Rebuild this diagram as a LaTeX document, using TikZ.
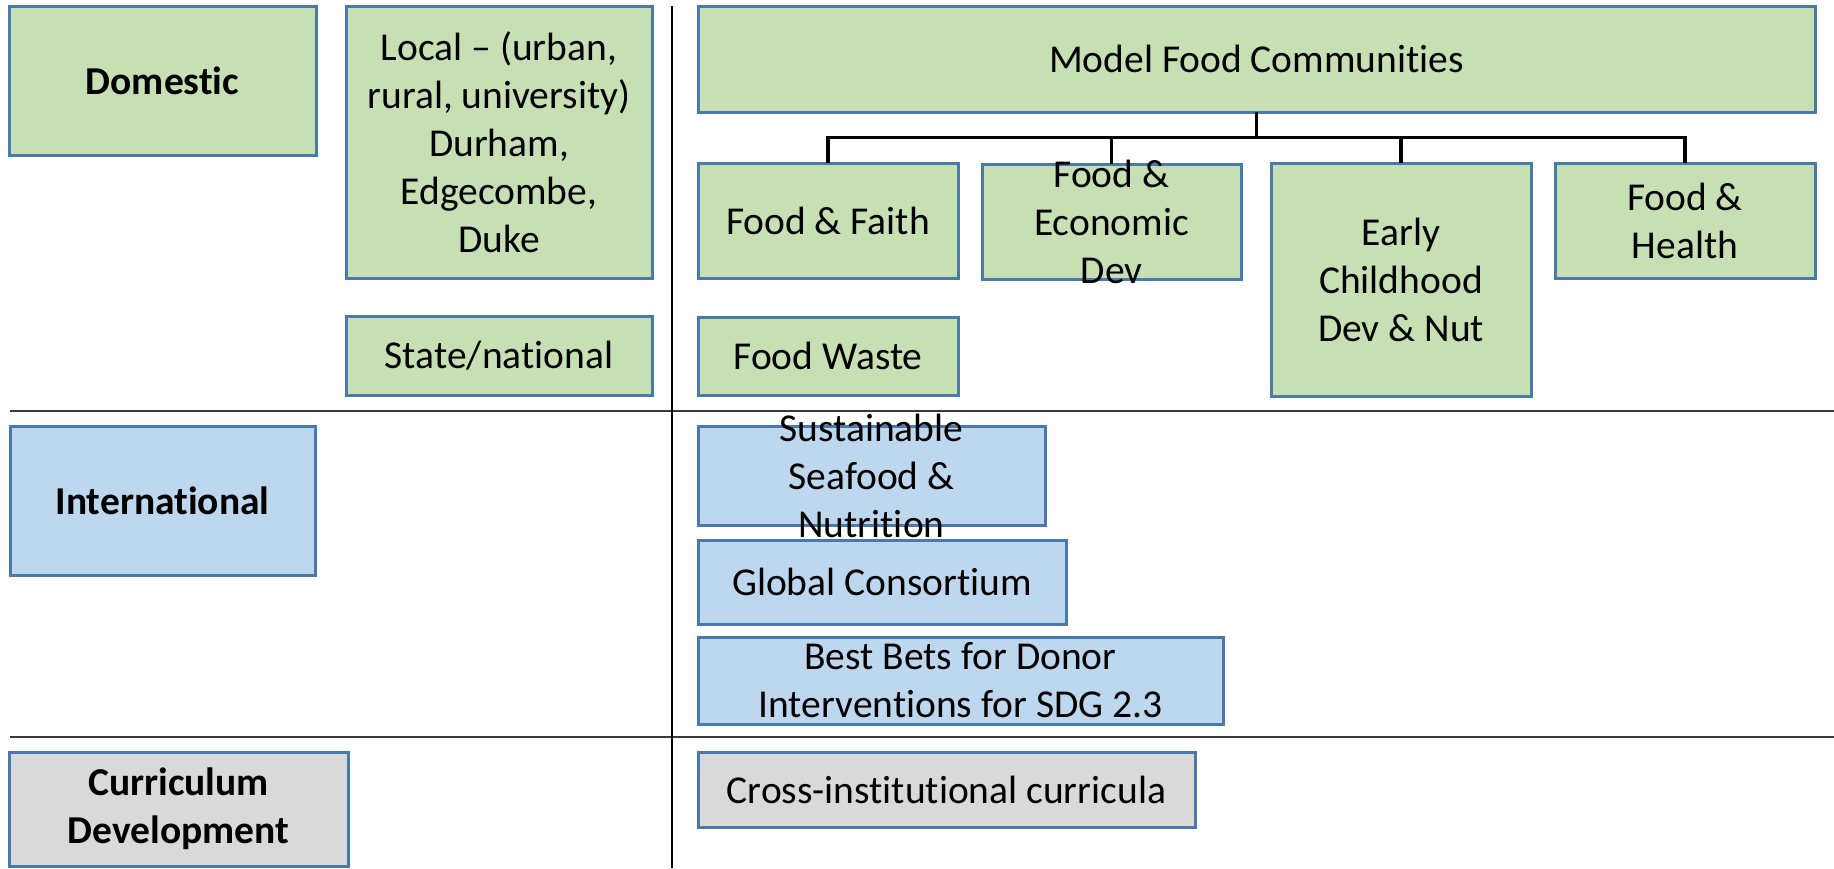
\documentclass[tikz,border=0pt]{standalone}
\usepackage{fontspec}
\setmainfont{Carlito}[Ligatures=CommonOff]
\definecolor{greenfill}{HTML}{C6E0B4}
\definecolor{bluefill}{HTML}{BDD7EE}
\definecolor{grayfill}{HTML}{D9D9D9}
\definecolor{boxedge}{HTML}{4A79AB}
\definecolor{rule}{HTML}{3A3A3A}
\tikzset{
  box/.style={draw=boxedge, line width=3pt, inner sep=0pt, outer sep=0pt},
  gbox/.style={box, fill=greenfill},
  bbox/.style={box, fill=bluefill},
  ybox/.style={box, fill=grayfill},
  txt/.style={align=center, inner sep=0pt, font=\fontsize{39.5pt}{48pt}\selectfont},
  btxt/.style={txt, font=\fontsize{39.5pt}{48pt}\selectfont\bfseries},
  tree/.style={draw=black, line width=3.5pt},
  sep/.style={draw=rule, line width=2pt},
}
\begin{document}
\begin{tikzpicture}[x=1pt, y=-1pt]
\useasboundingbox (0,0) rectangle (1834,868);

% section dividers
\coordinate (vtop) at (672,6);
\coordinate (vbot) at (672,868);
\coordinate (h1a) at (10,411);
\coordinate (h1b) at (1834,411);
\coordinate (h2a) at (10,737);
\coordinate (h2b) at (1834,737);
\draw[sep] (h1a) -- (h1b);
\draw[sep] (h2a) -- (h2b);
\draw[draw=black, line width=1.5pt] (vtop) -- (vbot);

% row headings
\node[gbox, minimum width=307pt, minimum height=149pt] (dom) at (162.5,80.5) {};
\node[btxt] (dom-t) at (dom) {Domestic};
\node[bbox, minimum width=305pt, minimum height=149pt] (intl) at (162.5,500.5) {};
\node[btxt] (intl-t) at (intl) {International};
\node[ybox, minimum width=339pt, minimum height=114pt] (curr) at (178.5,809) {};
\node[btxt] (curr-t) at (curr) {Curriculum\\Development};

% domestic scope
\node[gbox, minimum width=306pt, minimum height=272pt] (local) at (499,142) {};
\node[txt] (local-t) at (local) {Local -- (urban,\\rural, university)\\Durham,\\Edgecombe,\\Duke};
\node[gbox, minimum width=306pt, minimum height=79pt] (state) at (499,355.5) {};
\node[txt] (state-t) at (state) {State/national};

% model food communities
\node[gbox, minimum width=1117pt, minimum height=106pt] (model) at (1256.5,59) {};
\node[txt] (model-t) at (model) {Model Food Communities};
\node[gbox, minimum width=260pt, minimum height=115pt] (faith) at (828,220.5) {};
\node[txt] (faith-t) at (faith) {Food \& Faith};
\node[gbox, minimum width=259pt, minimum height=115pt] (econ) at (1111.5,221.5) {};
\node[txt] (econ-t) at (econ) {Food \&\\Economic\\Dev};
\node[gbox, minimum width=260pt, minimum height=233pt] (early) at (1401,279.5) {};
\node[txt] (early-t) at (early) {Early\\Childhood\\Dev \& Nut};
\node[gbox, minimum width=260pt, minimum height=115pt] (health) at (1685,220.5) {};
\node[txt] (health-t) at (health) {Food \&\\Health};
\node[gbox, minimum width=260pt, minimum height=78pt] (waste) at (828,356) {};
\node[txt] (waste-t) at (waste) {Food Waste};

\foreach \child in {faith,econ,early,health}
  \draw[tree] (model.south) -- ++(0,25.5) -| (\child.north);

% international programmes
\node[bbox, minimum width=347pt, minimum height=99pt] (seafood) at (871.5,475.5) {};
\node[txt] (seafood-t) at (seafood) {Sustainable\\Seafood \&\\Nutrition};
\node[bbox, minimum width=368pt, minimum height=84pt] (global) at (882,582) {};
\node[txt] (global-t) at (global) {Global Consortium};
\node[bbox, minimum width=525pt, minimum height=87pt] (bets) at (960.5,680.5) {};
\node[txt] (bets-t) at (bets) {Best Bets for Donor\\Interventions for SDG 2.3};

% curriculum
\node[ybox, minimum width=497pt, minimum height=75pt] (cross) at (946.5,789.5) {};
\node[txt] (cross-t) at (cross) {Cross-institutional curricula};
\end{tikzpicture}
\end{document}
